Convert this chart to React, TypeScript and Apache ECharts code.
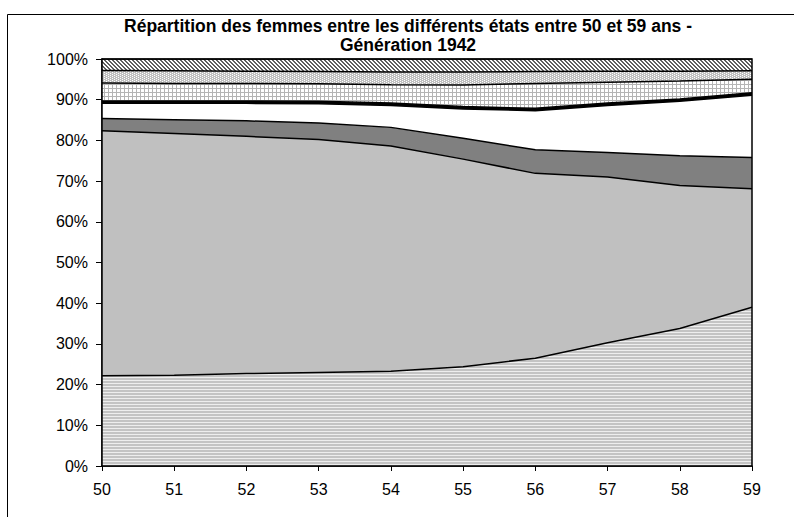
import React, { useEffect, useRef } from "react";
import * as echarts from "echarts";

// Ages (x categories)
const ages = ["50", "51", "52", "53", "54", "55", "56", "57", "58", "59"];

// Title lines
const titleLine1 = "Répartition des femmes entre les différents états entre 50 et 59 ans -";
const titleLine2 = "Génération 1942";

// Shares (%) of each state, stacked from bottom to top
const etat1 = [22.2, 22.3, 22.7, 23.0, 23.3, 24.4, 26.5, 30.3, 33.8, 39.0];
const etat2 = [60.2, 59.4, 58.3, 57.2, 55.3, 51.0, 45.4, 40.7, 35.1, 29.1];
const etat3 = [3.0, 3.4, 3.8, 4.1, 4.6, 5.1, 5.8, 6.0, 7.3, 7.7];
const etat4 = [3.7, 4.0, 4.3, 4.7, 5.4, 7.2, 9.6, 11.6, 13.4, 15.3];
const etat5 = [0.6, 0.6, 0.6, 0.6, 0.6, 0.6, 0.6, 0.6, 0.6, 0.6];
const etat6 = [4.4, 4.3, 4.3, 4.3, 4.5, 5.3, 6.1, 5.1, 4.4, 3.3];
const etat7 = [3.1, 3.1, 3.0, 3.0, 3.1, 3.2, 2.9, 2.7, 2.4, 2.1];
const etat8 = [2.8, 2.9, 3.0, 3.1, 3.2, 3.2, 3.1, 3.0, 3.0, 2.9];

const yMin = 0;
const yMax = 100;
const yInterval = 10;

function makePattern(w: number, h: number, draw: (ctx: CanvasRenderingContext2D) => void) {
  const c = document.createElement("canvas");
  c.width = w;
  c.height = h;
  const ctx = c.getContext("2d")!;
  draw(ctx);
  return { image: c, repeat: "repeat", imageWidth: w, imageHeight: h } as any;
}

export default function App() {
  const ref = useRef<HTMLDivElement>(null);

  useEffect(() => {
    document.body.style.margin = "0";
    if (!ref.current) return;
    const chart = echarts.init(ref.current, undefined, { renderer: "svg" });

    const stripes = makePattern(4, 3, (ctx) => {
      ctx.fillStyle = "#c4c4c4";
      ctx.fillRect(0, 0, 4, 3);
      ctx.fillStyle = "#eeeeee";
      ctx.fillRect(0, 2, 4, 1);
    });
    const grid = makePattern(4, 4, (ctx) => {
      ctx.fillStyle = "#ffffff";
      ctx.fillRect(0, 0, 4, 4);
      ctx.fillStyle = "#b4b4b4";
      ctx.fillRect(0, 0, 4, 1);
      ctx.fillRect(0, 0, 1, 4);
    });
    const dotted = makePattern(4, 2, (ctx) => {
      ctx.fillStyle = "#c0c0c0";
      ctx.fillRect(0, 0, 4, 2);
      ctx.fillStyle = "#ffffff";
      ctx.fillRect(0, 0, 1, 1);
      ctx.fillRect(2, 1, 1, 1);
    });
    const hatch = makePattern(4, 4, (ctx) => {
      ctx.fillStyle = "#ffffff";
      ctx.fillRect(0, 0, 4, 4);
      ctx.fillStyle = "#606060";
      for (let y = 0; y < 4; y++) {
        for (let x = 0; x < 4; x++) {
          if ((x - y + 8) % 4 < 2) ctx.fillRect(x, y, 1, 1);
        }
      }
    });

    const layers = [
      { name: "État 1", data: etat1, color: stripes },
      { name: "État 2", data: etat2, color: "#c0c0c0" },
      { name: "État 3", data: etat3, color: "#808080" },
      { name: "État 4", data: etat4, color: "#ffffff" },
      { name: "État 5", data: etat5, color: "#000000" },
      { name: "État 6", data: etat6, color: grid },
      { name: "État 7", data: etat7, color: dotted },
      { name: "État 8", data: etat8, color: hatch },
    ];

    const areaSeries = layers.map((l) => ({
      name: l.name,
      type: "line",
      stack: "areas",
      data: l.data,
      symbol: "none",
      silent: true,
      z: 2,
      lineStyle: { width: 0, opacity: 0 },
      areaStyle: { color: l.color, opacity: 1 },
    }));
    const lineSeries = layers.map((l) => ({
      name: l.name + " ",
      type: "line",
      stack: "lines",
      data: l.data,
      symbol: "none",
      silent: true,
      z: 3,
      lineStyle: { color: "#000000", width: 1.5 },
    }));

    const font = "Liberation Sans, Arial, sans-serif";

    chart.setOption({
      animation: false,
      backgroundColor: "#ffffff",
      textStyle: { fontFamily: font },
      grid: {
        left: 102,
        right: 42,
        top: 59,
        bottom: 51,
        show: true,
        z: 10,
        borderColor: "#000000",
        borderWidth: 1.5,
        backgroundColor: "transparent",
      },
      xAxis: {
        type: "category",
        data: ages,
        boundaryGap: false,
        axisLine: { lineStyle: { color: "#000000", width: 1.5 } },
        axisTick: { show: true, length: 5, interval: 0, lineStyle: { color: "#000000", width: 1 } },
        axisLabel: { color: "#000000", fontSize: 16, fontFamily: font, margin: 15, interval: 0 },
        splitLine: { show: false },
      },
      yAxis: {
        type: "value",
        min: yMin,
        max: yMax,
        interval: yInterval,
        axisLine: { show: true, lineStyle: { color: "#000000", width: 1.5 } },
        axisTick: { show: true, length: 6, lineStyle: { color: "#000000", width: 1 } },
        axisLabel: { color: "#000000", fontSize: 16, fontFamily: font, margin: 14, formatter: "{value}%" },
        splitLine: { show: false },
      },
      graphic: [
        {
          type: "polyline",
          shape: { points: [[7.5, 517], [7.5, 14.5], [794, 14.5]] },
          style: { stroke: "#000000", lineWidth: 1, fill: "none" },
          z: 20,
        },
        {
          type: "text",
          x: 408,
          y: 26,
          style: {
            text: titleLine1,
            font: "bold 17.5px " + font,
            fill: "#000000",
            align: "center",
            verticalAlign: "middle",
            textAlign: "center",
            textVerticalAlign: "middle",
          },
          z: 20,
        },
        {
          type: "text",
          x: 408,
          y: 45,
          style: {
            text: titleLine2,
            font: "bold 17.5px " + font,
            fill: "#000000",
            align: "center",
            verticalAlign: "middle",
            textAlign: "center",
            textVerticalAlign: "middle",
          },
          z: 20,
        },
      ],
      series: [...areaSeries, ...lineSeries],
    });

    return () => chart.dispose();
  }, []);

  return (
    <div
      ref={ref}
      style={{ position: "absolute", left: 0, top: 0, width: 794, height: 517 }}
    />
  );
}
